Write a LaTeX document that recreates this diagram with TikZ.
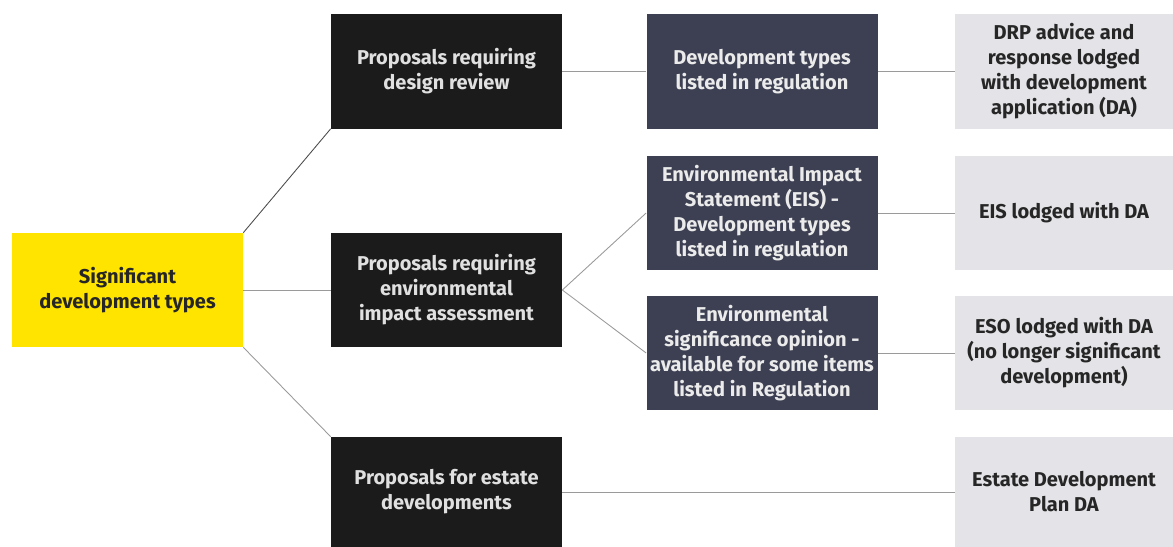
\documentclass[tikz,border=0pt]{standalone}
\usepackage{fontspec}
\setmainfont{Fira Sans}
\usetikzlibrary{positioning,calc}

\definecolor{sigyellow}{HTML}{FFE400}
\definecolor{darkbox}{HTML}{1B1B1C}
\definecolor{slatebox}{HTML}{3D4052}
\definecolor{lightbox}{HTML}{E4E4E8}
\definecolor{linkgray}{HTML}{9A9A9A}

\tikzset{
  box/.style={rectangle, minimum width=4.62cm, minimum height=2.28cm, align=center,
    inner sep=2pt, font=\fontsize{11.4}{14.2}\selectfont\bfseries},
  sigbox/.style={box, fill=sigyellow, text=black!85},
  darkstep/.style={box, fill=darkbox, text=white!88!black},
  slatestep/.style={box, fill=slatebox, text=white!92!black},
  resultbox/.style={box, fill=lightbox, text=black!85, minimum width=4.36cm},
  link/.style={draw=linkgray, line width=0.5pt}
}

\begin{document}
\begin{tikzpicture}
\useasboundingbox (0,0) rectangle (23.46,-10.94);
% start
\node[sigbox] (sig) at (2.55,-5.8) {Significant\\development types};

% proposals
\node[darkstep] (review) at (8.93,-1.43) {Proposals requiring\\design review};
\node[darkstep] (eia) at (8.93,-5.8) {Proposals requiring\\environmental\\impact assessment};
\node[darkstep, minimum height=2.2cm] (estate) at (8.93,-9.84) {Proposals for estate\\developments};

% regulation
\node[slatestep] (devtypes) at (15.24,-1.43) {Development types\\listed in regulation};
\node[slatestep] (eis) at (15.24,-4.26) {Environmental Impact\\Statement (EIS) -\\Development types\\listed in regulation};
\node[slatestep] (eso) at (15.24,-7.06) {Environmental\\significance opinion -\\available for some items\\listed in Regulation};

% lodged with DA
\node[resultbox] (drp) at (21.28,-1.43) {DRP advice and\\response lodged\\with development\\application (DA)};
\node[resultbox] (eisda) at (21.28,-4.26) {EIS lodged with DA};
\node[resultbox] (esoda) at (21.28,-7.06) {ESO lodged with DA\\(no longer significant\\development)};
\node[resultbox, minimum height=2.2cm] (edp) at (21.28,-9.84) {Estate Development\\Plan DA};

% connections
\draw[link, draw=black!70] (sig.north east) -- (review.south west);
\draw[link] (sig) -- (eia);
\draw[link] (sig.south east) -- (estate.north west);
\draw[link] (review) -- (devtypes);
\draw[link] (eia.east) -- (eis.west);
\draw[link] (eia.east) -- (eso.west);
\draw[link] (devtypes) -- (drp);
\draw[link] (eis) -- (eisda);
\draw[link] (eso) -- (esoda);
\draw[link] (estate) -- (edp);
\end{tikzpicture}
\end{document}
